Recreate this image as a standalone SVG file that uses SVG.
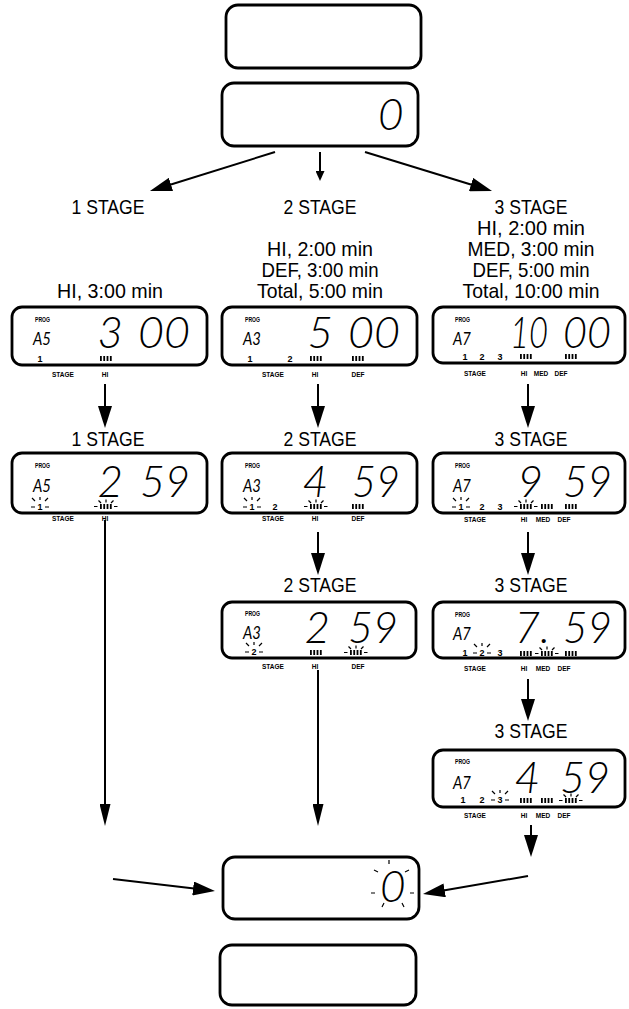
<svg xmlns="http://www.w3.org/2000/svg" xmlns:xlink="http://www.w3.org/1999/xlink" width="629" height="1009" viewBox="0 0 629 1009">
<style>
.box{fill:#fff;stroke:#000;stroke-width:2.8}
.h{font-family:"Liberation Sans",Arial,sans-serif;font-size:21px;text-anchor:middle;fill:#000}
.prog{font-family:"Liberation Sans",Arial,sans-serif;font-weight:bold;font-size:7px}
.code{font-family:Lato,"Open Sans","Liberation Sans",sans-serif;font-style:italic;font-weight:normal;font-size:18px}
.dig{font-family:Lato,"Open Sans","Liberation Sans",sans-serif;font-style:italic;font-weight:300;font-size:44px}
.end{text-anchor:end}
.sn{font-family:"Liberation Sans",Arial,sans-serif;font-weight:bold;font-size:9px;text-anchor:middle}
.lb{font-family:"Liberation Sans",Arial,sans-serif;font-weight:bold;font-size:6.5px;text-anchor:middle}
.ln{stroke:#000;stroke-width:2;fill:none}
.tk{stroke:#000;stroke-width:1.2;fill:none}
</style>
<defs>
<marker id="ah" markerUnits="userSpaceOnUse" markerWidth="22" markerHeight="14" viewBox="0 0 22 14" refX="16" refY="7" orient="auto"><path d="M0,0L22,7L0,14Z"/></marker>
<marker id="al" markerUnits="userSpaceOnUse" markerWidth="22" markerHeight="11" viewBox="0 0 22 11" refX="16" refY="5.5" orient="auto"><path d="M0,0L22,5.5L0,11Z"/></marker>
<marker id="as" markerUnits="userSpaceOnUse" markerWidth="10" markerHeight="9" viewBox="0 0 10 9" refX="6" refY="4.5" orient="auto"><path d="M0,0L10,4.5L0,9Z"/></marker>
<g id="bar"><rect x="0" y="0" width="1.8" height="5"/><rect x="3.3" y="0" width="1.8" height="5"/><rect x="6.6" y="0" width="1.8" height="5"/><rect x="9.9" y="0" width="1.8" height="5"/></g>
<g id="bbar"><use xlink:href="#bar"/><path class="tk" d="M-6,2.5h3.5M14,2.5h3.5M6,-1.5v-3M1,-1l-2.5,-2.5M11,-1l2.5,-2.5"/></g>
<path id="bmk" class="tk" d="M-9,-3h4M5,-3h4M0,-10v-3M-5,-9l-3,-3M5,-9l3,-3"/>
</defs>

<g id="top-box"><rect class="box" x="226" y="5" width="195" height="63" rx="12"/></g>
<g id="zero-box"><rect class="box" x="222" y="83" width="196" height="63" rx="12"/><text class="dig" x="378" y="130">0</text></g>

<g id="headings">
<text class="h" x="108" y="214" textLength="73" lengthAdjust="spacingAndGlyphs">1 STAGE</text>
<text class="h" x="320" y="214" textLength="73" lengthAdjust="spacingAndGlyphs">2 STAGE</text>
<text class="h" x="531" y="214" textLength="73" lengthAdjust="spacingAndGlyphs">3 STAGE</text>
<text class="h" x="531" y="235" textLength="108" lengthAdjust="spacingAndGlyphs">HI, 2:00 min</text>
<text class="h" x="531" y="256" textLength="127" lengthAdjust="spacingAndGlyphs">MED, 3:00 min</text>
<text class="h" x="531" y="277" textLength="117" lengthAdjust="spacingAndGlyphs">DEF, 5:00 min</text>
<text class="h" x="531" y="298" textLength="137" lengthAdjust="spacingAndGlyphs">Total, 10:00 min</text>
<text class="h" x="320" y="256" textLength="106" lengthAdjust="spacingAndGlyphs">HI, 2:00 min</text>
<text class="h" x="320" y="277" textLength="117" lengthAdjust="spacingAndGlyphs">DEF, 3:00 min</text>
<text class="h" x="320" y="298" textLength="126" lengthAdjust="spacingAndGlyphs">Total, 5:00 min</text>
<text class="h" x="110" y="298" textLength="106" lengthAdjust="spacingAndGlyphs">HI, 3:00 min</text>
<text class="h" x="108" y="446" textLength="73" lengthAdjust="spacingAndGlyphs">1 STAGE</text>
<text class="h" x="320" y="446" textLength="73" lengthAdjust="spacingAndGlyphs">2 STAGE</text>
<text class="h" x="531" y="446" textLength="73" lengthAdjust="spacingAndGlyphs">3 STAGE</text>
<text class="h" x="320" y="592" textLength="73" lengthAdjust="spacingAndGlyphs">2 STAGE</text>
<text class="h" x="531" y="592" textLength="73" lengthAdjust="spacingAndGlyphs">3 STAGE</text>
<text class="h" x="531" y="738" textLength="73" lengthAdjust="spacingAndGlyphs">3 STAGE</text>
</g>

<g id="d1-left" transform="translate(12,307)">
<rect class="box" x="0" y="0" width="195" height="58" rx="10"/>
<text class="prog" x="23" y="15" textLength="15" lengthAdjust="spacingAndGlyphs">PROG</text>
<text class="code" x="21" y="38" textLength="18" lengthAdjust="spacingAndGlyphs">A5</text>
<text class="dig end" x="111" y="41">3</text>
<text class="dig" x="126" y="41" textLength="52" lengthAdjust="spacingAndGlyphs">00</text>
<text class="sn" x="28" y="55">1</text>
<use xlink:href="#bar" x="88" y="49"/>
<text class="lb" x="51" y="70">STAGE</text>
<text class="lb" x="93" y="70">HI</text>
</g>

<g id="d1-mid" transform="translate(222,307)">
<rect class="box" x="0" y="0" width="195" height="58" rx="10"/>
<text class="prog" x="23" y="15" textLength="15" lengthAdjust="spacingAndGlyphs">PROG</text>
<text class="code" x="21" y="38" textLength="18" lengthAdjust="spacingAndGlyphs">A3</text>
<text class="dig end" x="111" y="41">5</text>
<text class="dig" x="126" y="41" textLength="52" lengthAdjust="spacingAndGlyphs">00</text>
<text class="sn" x="28" y="55">1</text>
<text class="sn" x="68" y="55">2</text>
<use xlink:href="#bar" x="88" y="49"/>
<use xlink:href="#bar" x="130" y="49"/>
<text class="lb" x="51" y="70">STAGE</text>
<text class="lb" x="93" y="70">HI</text>
<text class="lb" x="136" y="70">DEF</text>
</g>

<g id="d1-right" transform="translate(433,307)">
<rect class="box" x="0" y="0" width="192" height="56" rx="10"/>
<text class="prog" x="22" y="15" textLength="15" lengthAdjust="spacingAndGlyphs">PROG</text>
<text class="code" x="20" y="38" textLength="18" lengthAdjust="spacingAndGlyphs">A7</text>
<text class="dig end" x="115" y="41" textLength="38" lengthAdjust="spacingAndGlyphs">10</text>
<text class="dig" x="130" y="41" textLength="48" lengthAdjust="spacingAndGlyphs">00</text>
<text class="sn" x="32" y="53">1</text>
<text class="sn" x="49" y="53">2</text>
<text class="sn" x="67" y="53">3</text>
<use xlink:href="#bar" x="87" y="47"/>
<use xlink:href="#bar" x="132" y="47"/>
<text class="lb" x="42" y="69">STAGE</text>
<text class="lb" x="91" y="69">HI</text>
<text class="lb" x="108" y="69">MED</text>
<text class="lb" x="128" y="69">DEF</text>
</g>

<g id="d2-left" transform="translate(12,453)">
<rect class="box" x="0" y="0" width="195" height="60" rx="10"/>
<text class="prog" x="23" y="15" textLength="15" lengthAdjust="spacingAndGlyphs">PROG</text>
<text class="code" x="21" y="39" textLength="18" lengthAdjust="spacingAndGlyphs">A5</text>
<text class="dig end" x="111" y="44">2</text>
<text class="dig" x="128" y="44" textLength="50" lengthAdjust="spacingAndGlyphs">59</text>
<text class="sn" x="28" y="57">1</text>
<use xlink:href="#bmk" x="28" y="57"/>
<use xlink:href="#bbar" x="88" y="51"/>
<text class="lb" x="51" y="68">STAGE</text>
<text class="lb" x="93" y="68">HI</text>
</g>

<g id="d2-mid" transform="translate(222,453)">
<rect class="box" x="0" y="0" width="195" height="60" rx="10"/>
<text class="prog" x="23" y="15" textLength="15" lengthAdjust="spacingAndGlyphs">PROG</text>
<text class="code" x="21" y="39" textLength="18" lengthAdjust="spacingAndGlyphs">A3</text>
<text class="dig end" x="106" y="44">4</text>
<text class="dig" x="130" y="44" textLength="48" lengthAdjust="spacingAndGlyphs">59</text>
<text class="sn" x="30" y="57">1</text>
<use xlink:href="#bmk" x="30" y="57"/>
<text class="sn" x="53" y="57">2</text>
<use xlink:href="#bbar" x="88" y="51"/>
<use xlink:href="#bar" x="130" y="51"/>
<text class="lb" x="51" y="68">STAGE</text>
<text class="lb" x="93" y="68">HI</text>
<text class="lb" x="136" y="68">DEF</text>
</g>

<g id="d2-right" transform="translate(433,453)">
<rect class="box" x="0" y="0" width="192" height="60" rx="10"/>
<text class="prog" x="22" y="15" textLength="15" lengthAdjust="spacingAndGlyphs">PROG</text>
<text class="code" x="20" y="39" textLength="18" lengthAdjust="spacingAndGlyphs">A7</text>
<text class="dig end" x="110" y="44">9</text>
<text class="dig" x="130" y="44" textLength="49" lengthAdjust="spacingAndGlyphs">59</text>
<text class="sn" x="28" y="57">1</text>
<use xlink:href="#bmk" x="28" y="57"/>
<text class="sn" x="49" y="57">2</text>
<text class="sn" x="67" y="57">3</text>
<use xlink:href="#bbar" x="87" y="51"/>
<use xlink:href="#bar" x="108" y="51"/>
<use xlink:href="#bar" x="132" y="51"/>
<text class="lb" x="42" y="69">STAGE</text>
<text class="lb" x="91" y="69">HI</text>
<text class="lb" x="110" y="69">MED</text>
<text class="lb" x="131" y="69">DEF</text>
</g>

<g id="d3-mid" transform="translate(222,602)">
<rect class="box" x="0" y="0" width="194" height="56" rx="10"/>
<text class="prog" x="23" y="14" textLength="15" lengthAdjust="spacingAndGlyphs">PROG</text>
<text class="code" x="21" y="37" textLength="18" lengthAdjust="spacingAndGlyphs">A3</text>
<text class="dig end" x="108" y="41">2</text>
<text class="dig" x="126" y="41" textLength="50" lengthAdjust="spacingAndGlyphs">59</text>
<text class="sn" x="32" y="53">2</text>
<use xlink:href="#bmk" x="32" y="53"/>
<use xlink:href="#bar" x="88" y="48"/>
<use xlink:href="#bbar" x="128" y="48"/>
<text class="lb" x="51" y="67">STAGE</text>
<text class="lb" x="93" y="67">HI</text>
<text class="lb" x="136" y="67">DEF</text>
</g>

<g id="d3-right" transform="translate(433,602)">
<rect class="box" x="0" y="0" width="192" height="56" rx="10"/>
<text class="prog" x="22" y="15" textLength="15" lengthAdjust="spacingAndGlyphs">PROG</text>
<text class="code" x="20" y="38" textLength="18" lengthAdjust="spacingAndGlyphs">A7</text>
<text class="dig end" x="117" y="41">7.</text>
<text class="dig" x="130" y="41" textLength="49" lengthAdjust="spacingAndGlyphs">59</text>
<text class="sn" x="32" y="54">1</text>
<text class="sn" x="49" y="54">2</text>
<use xlink:href="#bmk" x="49" y="54"/>
<text class="sn" x="67" y="54">3</text>
<use xlink:href="#bar" x="87" y="49"/>
<use xlink:href="#bbar" x="108" y="49"/>
<use xlink:href="#bar" x="132" y="49"/>
<text class="lb" x="42" y="69">STAGE</text>
<text class="lb" x="91" y="69">HI</text>
<text class="lb" x="110" y="69">MED</text>
<text class="lb" x="131" y="69">DEF</text>
</g>

<g id="d4-right" transform="translate(433,750)">
<rect class="box" x="0" y="0" width="192" height="57" rx="10"/>
<text class="prog" x="22" y="14" textLength="15" lengthAdjust="spacingAndGlyphs">PROG</text>
<text class="code" x="20" y="39" textLength="18" lengthAdjust="spacingAndGlyphs">A7</text>
<text class="dig end" x="107" y="43">4</text>
<text class="dig" x="127" y="43" textLength="50" lengthAdjust="spacingAndGlyphs">59</text>
<text class="sn" x="30" y="53">1</text>
<text class="sn" x="49" y="53">2</text>
<text class="sn" x="67" y="53">3</text>
<use xlink:href="#bmk" x="67" y="53"/>
<use xlink:href="#bar" x="87" y="48"/>
<use xlink:href="#bar" x="108" y="48"/>
<use xlink:href="#bbar" x="132" y="48"/>
<text class="lb" x="42" y="68">STAGE</text>
<text class="lb" x="91" y="68">HI</text>
<text class="lb" x="110" y="68">MED</text>
<text class="lb" x="131" y="68">DEF</text>
</g>

<g id="end-box"><rect class="box" x="223" y="857" width="196" height="62" rx="12"/><text class="dig" x="380" y="902">0</text><path class="tk" d="M389,864v-4M378,872l-4,-2M405,872l4,-2M375,893h-4M410,893h4M384,903l-2,4M402,903l2,4"/></g>
<g id="blank-box"><rect class="box" x="220" y="945" width="196" height="60" rx="12"/></g>

<g id="connectors">
<path class="ln" d="M275,152L155.7,189.2" marker-end="url(#ah)"/>
<path class="ln" d="M320,152V177" marker-end="url(#as)"/>
<path class="ln" d="M365,152L486.3,189.2" marker-end="url(#ah)"/>
<path class="ln" d="M105,384V422" marker-end="url(#ah)"/>
<path class="ln" d="M318,384V422" marker-end="url(#ah)"/>
<path class="ln" d="M528,384V422" marker-end="url(#ah)"/>
<path class="ln" d="M318,532V569" marker-end="url(#ah)"/>
<path class="ln" d="M528,532V569" marker-end="url(#ah)"/>
<path class="ln" d="M528,679V715" marker-end="url(#ah)"/>
<path class="ln" d="M105,520V820" marker-end="url(#al)"/>
<path class="ln" d="M318,670V820" marker-end="url(#al)"/>
<path class="ln" d="M531,825V851" marker-end="url(#ah)"/>
<path class="ln" d="M113,879L209,890.3" marker-end="url(#ah)"/>
<path class="ln" d="M528,876L428.9,893" marker-end="url(#ah)"/>
</g>
</svg>
